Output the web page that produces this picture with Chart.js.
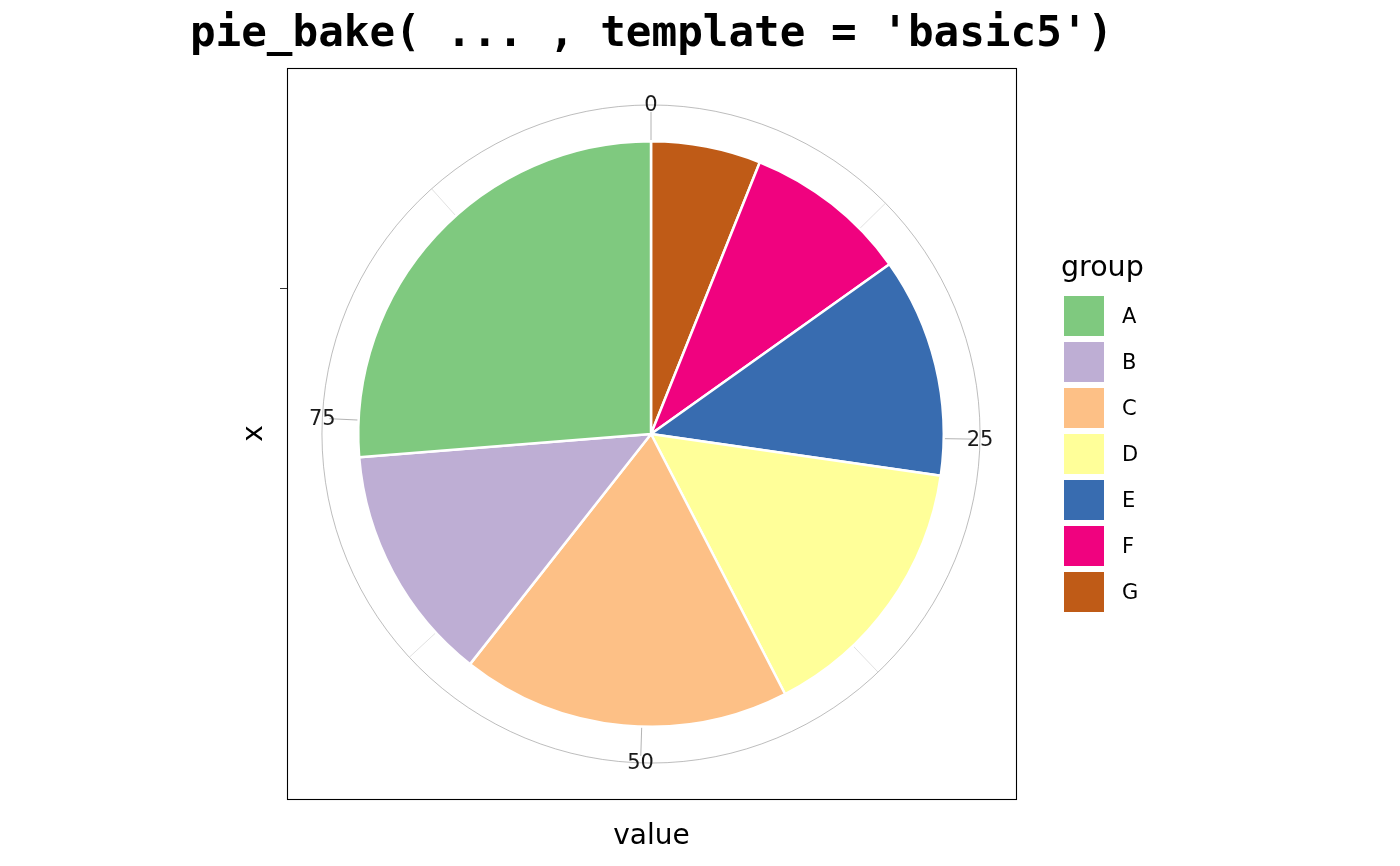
<!DOCTYPE html>
<html>
<head>
<meta charset="utf-8">
<script src="https://cdn.jsdelivr.net/npm/chart.js@4.4.0/dist/chart.umd.min.js"></script>
<style>
  html, body { margin: 0; padding: 0; background: #fff; }
  #wrap { width: 1400px; height: 866px; position: relative; }
</style>
</head>
<body>
<div id="wrap"><canvas id="pie"></canvas></div>
<script>
const groups = ['A', 'B', 'C', 'D', 'E', 'F', 'G'];
const values = [26, 13, 18, 15, 12, 9, 6];
const colors = ['#7FC97F', '#BEAED4', '#FDC086', '#FFFF99', '#386CB0', '#F0027F', '#BF5B17'];
const majorTicks = [0, 25, 50, 75];
const minorTicks = [12.5, 37.5, 62.5, 87.5];
const titleText = "pie_bake( ... , template = 'basic5')";
const xTitle = 'value';
const yTitle = 'x';
const legendTitle = 'group';

const sans = '"DejaVu Sans", sans-serif';
const total = values.reduce((a, b) => a + b, 0);

// ggplot stacks A last, so going clockwise from the top it's G ... A
const pieLabels = groups.slice().reverse();
const pieValues = values.slice().reverse();
const pieColors = colors.slice().reverse();

function angleOf(v) {
  return v / total * Math.PI * 2 - Math.PI / 2;
}

const ggDecor = {
  id: 'ggDecor',
  beforeDatasetsDraw(chart) {
    const arc = chart.getDatasetMeta(0).data[0];
    const cx = arc.x, cy = arc.y, r = arc.outerRadius;
    const ringR = r * 1.124;
    const ctx = chart.ctx;
    ctx.save();
    ctx.strokeStyle = '#a0a0a0';
    ctx.lineWidth = 0.7;
    ctx.beginPath();
    ctx.arc(cx, cy, ringR, 0, Math.PI * 2);
    ctx.stroke();

    ctx.strokeStyle = '#d9d9d9';
    ctx.lineWidth = 0.8;
    minorTicks.forEach(v => {
      const a = angleOf(v);
      ctx.beginPath();
      ctx.moveTo(cx + Math.cos(a) * r, cy + Math.sin(a) * r);
      ctx.lineTo(cx + Math.cos(a) * ringR, cy + Math.sin(a) * ringR);
      ctx.stroke();
    });
    ctx.strokeStyle = '#a0a0a0';
    majorTicks.forEach(v => {
      const a = angleOf(v);
      ctx.beginPath();
      ctx.moveTo(cx + Math.cos(a) * r, cy + Math.sin(a) * r);
      ctx.lineTo(cx + Math.cos(a) * r * 1.1, cy + Math.sin(a) * r * 1.1);
      ctx.stroke();
    });
    ctx.restore();
  },
  afterDraw(chart) {
    const arc = chart.getDatasetMeta(0).data[0];
    const cx = arc.x, cy = arc.y, r = arc.outerRadius;
    const ringR = r * 1.124;
    const ctx = chart.ctx;
    ctx.save();

    // theta tick labels
    ctx.fillStyle = '#1a1a1a';
    ctx.font = '21px ' + sans;
    ctx.textAlign = 'center';
    ctx.textBaseline = 'middle';
    majorTicks.forEach(v => {
      const a = angleOf(v);
      ctx.fillText(String(v), cx + Math.cos(a) * ringR, cy + Math.sin(a) * ringR + 1);
    });

    // panel border
    const left = Math.round(cx - r * 1.245), right = Math.round(cx + r * 1.248);
    const top = Math.round(cy - r * 1.25), bottom = Math.round(cy + r * 1.247);
    ctx.strokeStyle = '#000';
    ctx.lineWidth = 1.1;
    ctx.strokeRect(left + 0.5, top + 0.5, right - left, bottom - top);

    // the lone x tick on the left side
    ctx.strokeStyle = '#333';
    ctx.lineWidth = 1;
    ctx.beginPath();
    ctx.moveTo(left - 7, Math.round(cy - r / 2) + 0.5);
    ctx.lineTo(left, Math.round(cy - r / 2) + 0.5);
    ctx.stroke();

    // title
    ctx.fillStyle = '#000';
    ctx.font = 'bold 42.6px "DejaVu Sans Mono", monospace';
    ctx.textBaseline = 'alphabetic';
    ctx.fillText(titleText, (left + right) / 2, 46);

    // axis titles
    ctx.font = '28px ' + sans;
    ctx.fillText(xTitle, (left + right) / 2, 844);
    ctx.save();
    ctx.translate(262, (top + bottom) / 2);
    ctx.rotate(-Math.PI / 2);
    ctx.fillText(yTitle, 0, 0);
    ctx.restore();

    // legend
    ctx.textAlign = 'left';
    ctx.font = '28.5px ' + sans;
    ctx.fillText(legendTitle, 1061, 276);
    ctx.font = '21px ' + sans;
    ctx.textBaseline = 'middle';
    groups.forEach((g, i) => {
      const y = 296 + i * 46;
      ctx.fillStyle = colors[i];
      ctx.fillRect(1064, y, 40, 40);
      ctx.fillStyle = '#000';
      ctx.fillText(g, 1122, y + 22);
    });
    ctx.restore();
  }
};

new Chart(document.getElementById('pie'), {
  type: 'pie',
  data: {
    labels: pieLabels,
    datasets: [{
      data: pieValues,
      backgroundColor: pieColors,
      borderColor: '#ffffff',
      borderWidth: 2.5
    }]
  },
  options: {
    responsive: true,
    maintainAspectRatio: false,
    animation: false,
    events: [],
    layout: { padding: { left: 357, right: 455, top: 140, bottom: 138 } },
    plugins: {
      legend: { display: false },
      title: { display: false },
      tooltip: { enabled: false }
    }
  },
  plugins: [ggDecor]
});
</script>
</body>
</html>
